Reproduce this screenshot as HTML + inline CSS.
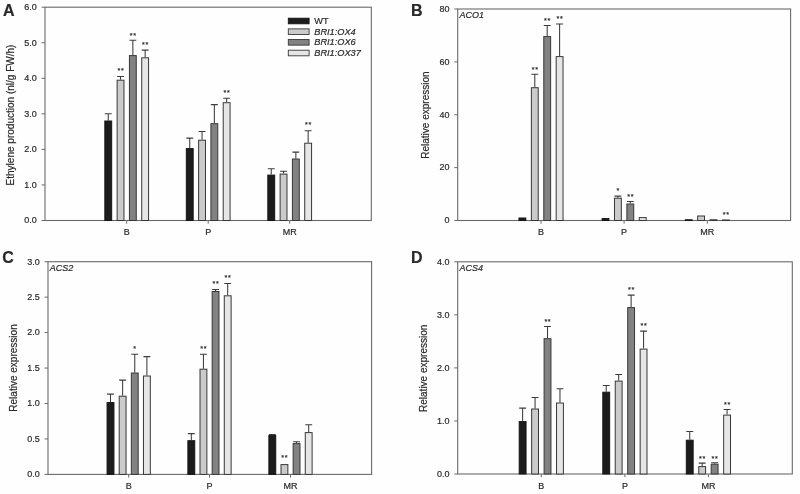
<!DOCTYPE html>
<html lang="en"><head><meta charset="utf-8"><title>Figure</title>
<style>html,body{margin:0;padding:0;background:#fefefe;}body{width:800px;height:494px;overflow:hidden;}svg{display:block;filter:blur(0.3px);}text{font-family:"Liberation Sans", Arial, Helvetica, sans-serif;fill:#2a2a2a;stroke:#2a2a2a;stroke-width:0.2px;}</style></head><body>
<svg width="800" height="494" viewBox="0 0 800 494">
<rect x="0" y="0" width="800" height="494" fill="#fefefe"/>
<g>
<rect x="45.00" y="7.20" width="326.30" height="213.30" fill="none" stroke="#6a6a6a" stroke-width="1.1"/>
<path d="M108.25 120.50V113.80M104.80 113.80H111.70" stroke="#3c3c3c" stroke-width="1.05" fill="none"/>
<rect x="104.83" y="121.00" width="6.85" height="99.50" fill="#1c1c1c" stroke="#141414" stroke-width="1.00"/>
<path d="M120.55 79.70V76.50M117.10 76.50H124.00" stroke="#3c3c3c" stroke-width="1.05" fill="none"/>
<rect x="117.12" y="80.20" width="6.85" height="140.30" fill="#cbcbcb" stroke="#383838" stroke-width="1.00"/>
<path d="M132.85 55.10V40.30M129.40 40.30H136.30" stroke="#3c3c3c" stroke-width="1.05" fill="none"/>
<rect x="129.42" y="55.60" width="6.85" height="164.90" fill="#828282" stroke="#383838" stroke-width="1.00"/>
<path d="M145.15 57.30V50.10M141.70 50.10H148.60" stroke="#3c3c3c" stroke-width="1.05" fill="none"/>
<rect x="141.72" y="57.80" width="6.85" height="162.70" fill="#e6e6e6" stroke="#383838" stroke-width="1.00"/>
<path d="M189.75 148.10V138.10M186.30 138.10H193.20" stroke="#3c3c3c" stroke-width="1.05" fill="none"/>
<rect x="186.32" y="148.60" width="6.85" height="71.90" fill="#1c1c1c" stroke="#141414" stroke-width="1.00"/>
<path d="M202.05 139.70V131.40M198.60 131.40H205.50" stroke="#3c3c3c" stroke-width="1.05" fill="none"/>
<rect x="198.62" y="140.20" width="6.85" height="80.30" fill="#cbcbcb" stroke="#383838" stroke-width="1.00"/>
<path d="M214.35 123.20V104.60M210.90 104.60H217.80" stroke="#3c3c3c" stroke-width="1.05" fill="none"/>
<rect x="210.92" y="123.70" width="6.85" height="96.80" fill="#828282" stroke="#383838" stroke-width="1.00"/>
<path d="M226.65 102.20V98.20M223.20 98.20H230.10" stroke="#3c3c3c" stroke-width="1.05" fill="none"/>
<rect x="223.22" y="102.70" width="6.85" height="117.80" fill="#e6e6e6" stroke="#383838" stroke-width="1.00"/>
<path d="M271.25 174.60V168.80M267.80 168.80H274.70" stroke="#3c3c3c" stroke-width="1.05" fill="none"/>
<rect x="267.82" y="175.10" width="6.85" height="45.40" fill="#1c1c1c" stroke="#141414" stroke-width="1.00"/>
<path d="M283.55 173.60V171.20M280.10 171.20H287.00" stroke="#3c3c3c" stroke-width="1.05" fill="none"/>
<rect x="280.12" y="174.10" width="6.85" height="46.40" fill="#cbcbcb" stroke="#383838" stroke-width="1.00"/>
<path d="M295.85 158.50V152.10M292.40 152.10H299.30" stroke="#3c3c3c" stroke-width="1.05" fill="none"/>
<rect x="292.42" y="159.00" width="6.85" height="61.50" fill="#828282" stroke="#383838" stroke-width="1.00"/>
<path d="M308.15 142.70V130.70M304.70 130.70H311.60" stroke="#3c3c3c" stroke-width="1.05" fill="none"/>
<rect x="304.72" y="143.20" width="6.85" height="77.30" fill="#e6e6e6" stroke="#383838" stroke-width="1.00"/>
<line x1="41.60" y1="7.20" x2="45.00" y2="7.20" stroke="#6a6a6a" stroke-width="1"/>
<text x="36.70" y="10.05" font-size="9" text-anchor="end">6.0</text>
<line x1="41.60" y1="42.75" x2="45.00" y2="42.75" stroke="#6a6a6a" stroke-width="1"/>
<text x="36.70" y="45.60" font-size="9" text-anchor="end">5.0</text>
<line x1="41.60" y1="78.30" x2="45.00" y2="78.30" stroke="#6a6a6a" stroke-width="1"/>
<text x="36.70" y="81.15" font-size="9" text-anchor="end">4.0</text>
<line x1="41.60" y1="113.85" x2="45.00" y2="113.85" stroke="#6a6a6a" stroke-width="1"/>
<text x="36.70" y="116.70" font-size="9" text-anchor="end">3.0</text>
<line x1="41.60" y1="149.40" x2="45.00" y2="149.40" stroke="#6a6a6a" stroke-width="1"/>
<text x="36.70" y="152.25" font-size="9" text-anchor="end">2.0</text>
<line x1="41.60" y1="184.95" x2="45.00" y2="184.95" stroke="#6a6a6a" stroke-width="1"/>
<text x="36.70" y="187.80" font-size="9" text-anchor="end">1.0</text>
<line x1="41.60" y1="220.50" x2="45.00" y2="220.50" stroke="#6a6a6a" stroke-width="1"/>
<text x="36.70" y="223.35" font-size="9" text-anchor="end">0.0</text>
<line x1="126.70" y1="220.50" x2="126.70" y2="223.70" stroke="#6a6a6a" stroke-width="1"/>
<text x="126.70" y="235.40" font-size="9" text-anchor="middle">B</text>
<line x1="208.20" y1="220.50" x2="208.20" y2="223.70" stroke="#6a6a6a" stroke-width="1"/>
<text x="208.20" y="235.40" font-size="9" text-anchor="middle">P</text>
<line x1="289.70" y1="220.50" x2="289.70" y2="223.70" stroke="#6a6a6a" stroke-width="1"/>
<text x="289.70" y="235.40" font-size="9" text-anchor="middle">MR</text>
<text x="120.90" y="72.95" font-size="7.2" letter-spacing="0.7" text-anchor="middle" fill="#222" stroke="#222" stroke-width="0.5">**</text>
<text x="133.20" y="37.65" font-size="7.2" letter-spacing="0.7" text-anchor="middle" fill="#222" stroke="#222" stroke-width="0.5">**</text>
<text x="145.50" y="47.05" font-size="7.2" letter-spacing="0.7" text-anchor="middle" fill="#222" stroke="#222" stroke-width="0.5">**</text>
<text x="227.00" y="95.05" font-size="7.2" letter-spacing="0.7" text-anchor="middle" fill="#222" stroke="#222" stroke-width="0.5">**</text>
<text x="308.50" y="127.25" font-size="7.2" letter-spacing="0.7" text-anchor="middle" fill="#222" stroke="#222" stroke-width="0.5">**</text>
<text x="3.00" y="15.90" font-size="16" font-weight="bold" fill="#000" stroke="none">A</text>
<text transform="translate(13.90 115.00) rotate(-90)" font-size="10.03" text-anchor="middle">Ethylene production (nl/g FW/h)</text>
</g>
<g>
<rect x="457.70" y="9.00" width="332.90" height="211.50" fill="none" stroke="#6a6a6a" stroke-width="1.1"/>
<rect x="518.98" y="218.00" width="6.85" height="2.50" fill="#1c1c1c" stroke="#141414" stroke-width="1.00"/>
<path d="M534.80 87.20V74.20M531.35 74.20H538.25" stroke="#3c3c3c" stroke-width="1.05" fill="none"/>
<rect x="531.38" y="87.70" width="6.85" height="132.80" fill="#cbcbcb" stroke="#383838" stroke-width="1.00"/>
<path d="M547.20 36.10V25.40M543.75 25.40H550.65" stroke="#3c3c3c" stroke-width="1.05" fill="none"/>
<rect x="543.78" y="36.60" width="6.85" height="183.90" fill="#828282" stroke="#383838" stroke-width="1.00"/>
<path d="M559.60 56.10V24.00M556.15 24.00H563.05" stroke="#3c3c3c" stroke-width="1.05" fill="none"/>
<rect x="556.18" y="56.60" width="6.85" height="163.90" fill="#e6e6e6" stroke="#383838" stroke-width="1.00"/>
<rect x="602.08" y="218.60" width="6.85" height="1.90" fill="#1c1c1c" stroke="#141414" stroke-width="1.00"/>
<path d="M617.90 197.70V196.10M614.45 196.10H621.35" stroke="#3c3c3c" stroke-width="1.05" fill="none"/>
<rect x="614.48" y="198.20" width="6.85" height="22.30" fill="#cbcbcb" stroke="#383838" stroke-width="1.00"/>
<path d="M630.30 203.50V201.50M626.85 201.50H633.75" stroke="#3c3c3c" stroke-width="1.05" fill="none"/>
<rect x="626.88" y="204.00" width="6.85" height="16.50" fill="#828282" stroke="#383838" stroke-width="1.00"/>
<rect x="639.28" y="217.60" width="6.85" height="2.90" fill="#e6e6e6" stroke="#383838" stroke-width="1.00"/>
<rect x="685.27" y="219.80" width="6.85" height="0.70" fill="#1c1c1c" stroke="#141414" stroke-width="1.00"/>
<rect x="697.67" y="216.00" width="6.85" height="4.50" fill="#cbcbcb" stroke="#383838" stroke-width="1.00"/>
<rect x="710.08" y="219.80" width="6.85" height="0.70" fill="#828282" stroke="#383838" stroke-width="1.00"/>
<rect x="722.48" y="220.00" width="6.85" height="0.50" fill="#e6e6e6" stroke="#383838" stroke-width="1.00"/>
<line x1="454.30" y1="9.00" x2="457.70" y2="9.00" stroke="#6a6a6a" stroke-width="1"/>
<text x="449.40" y="11.85" font-size="9" text-anchor="end">80</text>
<line x1="454.30" y1="61.88" x2="457.70" y2="61.88" stroke="#6a6a6a" stroke-width="1"/>
<text x="449.40" y="64.72" font-size="9" text-anchor="end">60</text>
<line x1="454.30" y1="114.75" x2="457.70" y2="114.75" stroke="#6a6a6a" stroke-width="1"/>
<text x="449.40" y="117.60" font-size="9" text-anchor="end">40</text>
<line x1="454.30" y1="167.62" x2="457.70" y2="167.62" stroke="#6a6a6a" stroke-width="1"/>
<text x="449.40" y="170.47" font-size="9" text-anchor="end">20</text>
<line x1="454.30" y1="220.50" x2="457.70" y2="220.50" stroke="#6a6a6a" stroke-width="1"/>
<text x="449.40" y="223.35" font-size="9" text-anchor="end">0</text>
<line x1="541.00" y1="220.50" x2="541.00" y2="223.70" stroke="#6a6a6a" stroke-width="1"/>
<text x="541.00" y="235.40" font-size="9" text-anchor="middle">B</text>
<line x1="624.10" y1="220.50" x2="624.10" y2="223.70" stroke="#6a6a6a" stroke-width="1"/>
<text x="624.10" y="235.40" font-size="9" text-anchor="middle">P</text>
<line x1="707.30" y1="220.50" x2="707.30" y2="223.70" stroke="#6a6a6a" stroke-width="1"/>
<text x="707.30" y="235.40" font-size="9" text-anchor="middle">MR</text>
<text x="535.15" y="71.55" font-size="7.2" letter-spacing="0.7" text-anchor="middle" fill="#222" stroke="#222" stroke-width="0.5">**</text>
<text x="547.55" y="22.85" font-size="7.2" letter-spacing="0.7" text-anchor="middle" fill="#222" stroke="#222" stroke-width="0.5">**</text>
<text x="559.95" y="20.95" font-size="7.2" letter-spacing="0.7" text-anchor="middle" fill="#222" stroke="#222" stroke-width="0.5">**</text>
<text x="618.25" y="193.25" font-size="7.2" letter-spacing="0.7" text-anchor="middle" fill="#222" stroke="#222" stroke-width="0.5">*</text>
<text x="630.65" y="198.55" font-size="7.2" letter-spacing="0.7" text-anchor="middle" fill="#222" stroke="#222" stroke-width="0.5">**</text>
<text x="726.25" y="216.55" font-size="7.2" letter-spacing="0.7" text-anchor="middle" fill="#222" stroke="#222" stroke-width="0.5">**</text>
<text x="410.90" y="15.90" font-size="16" font-weight="bold" fill="#000" stroke="none">B</text>
<text x="459.40" y="18.30" font-size="9" font-style="italic">ACO1</text>
<text transform="translate(428.60 115.10) rotate(-90)" font-size="10.03" text-anchor="middle">Relative expression</text>
</g>
<g>
<rect x="48.00" y="261.70" width="323.60" height="212.70" fill="none" stroke="#6a6a6a" stroke-width="1.1"/>
<path d="M110.50 402.10V394.10M107.05 394.10H113.95" stroke="#3c3c3c" stroke-width="1.05" fill="none"/>
<rect x="107.08" y="402.60" width="6.85" height="71.80" fill="#1c1c1c" stroke="#141414" stroke-width="1.00"/>
<path d="M122.63 395.70V380.10M119.18 380.10H126.08" stroke="#3c3c3c" stroke-width="1.05" fill="none"/>
<rect x="119.21" y="396.20" width="6.85" height="78.20" fill="#cbcbcb" stroke="#383838" stroke-width="1.00"/>
<path d="M134.76 372.50V354.30M131.31 354.30H138.21" stroke="#3c3c3c" stroke-width="1.05" fill="none"/>
<rect x="131.34" y="373.00" width="6.85" height="101.40" fill="#828282" stroke="#383838" stroke-width="1.00"/>
<path d="M146.89 375.50V356.60M143.44 356.60H150.34" stroke="#3c3c3c" stroke-width="1.05" fill="none"/>
<rect x="143.47" y="376.00" width="6.85" height="98.40" fill="#e6e6e6" stroke="#383838" stroke-width="1.00"/>
<path d="M191.31 440.20V433.60M187.86 433.60H194.75" stroke="#3c3c3c" stroke-width="1.05" fill="none"/>
<rect x="187.88" y="440.70" width="6.85" height="33.70" fill="#1c1c1c" stroke="#141414" stroke-width="1.00"/>
<path d="M203.44 368.70V354.30M199.99 354.30H206.88" stroke="#3c3c3c" stroke-width="1.05" fill="none"/>
<rect x="200.01" y="369.20" width="6.85" height="105.20" fill="#cbcbcb" stroke="#383838" stroke-width="1.00"/>
<path d="M215.56 291.00V289.40M212.12 289.40H219.01" stroke="#3c3c3c" stroke-width="1.05" fill="none"/>
<rect x="212.14" y="291.50" width="6.85" height="182.90" fill="#828282" stroke="#383838" stroke-width="1.00"/>
<path d="M227.69 295.30V283.50M224.25 283.50H231.14" stroke="#3c3c3c" stroke-width="1.05" fill="none"/>
<rect x="224.27" y="295.80" width="6.85" height="178.60" fill="#e6e6e6" stroke="#383838" stroke-width="1.00"/>
<path d="M272.31 435.10V434.50M268.86 434.50H275.75" stroke="#3c3c3c" stroke-width="1.05" fill="none"/>
<rect x="268.88" y="435.60" width="6.85" height="38.80" fill="#1c1c1c" stroke="#141414" stroke-width="1.00"/>
<rect x="281.01" y="464.60" width="6.85" height="9.80" fill="#cbcbcb" stroke="#383838" stroke-width="1.00"/>
<path d="M296.56 443.10V441.70M293.12 441.70H300.01" stroke="#3c3c3c" stroke-width="1.05" fill="none"/>
<rect x="293.14" y="443.60" width="6.85" height="30.80" fill="#828282" stroke="#383838" stroke-width="1.00"/>
<path d="M308.69 432.10V424.70M305.25 424.70H312.14" stroke="#3c3c3c" stroke-width="1.05" fill="none"/>
<rect x="305.27" y="432.60" width="6.85" height="41.80" fill="#e6e6e6" stroke="#383838" stroke-width="1.00"/>
<line x1="44.60" y1="261.70" x2="48.00" y2="261.70" stroke="#6a6a6a" stroke-width="1"/>
<text x="39.70" y="264.55" font-size="9" text-anchor="end">3.0</text>
<line x1="44.60" y1="297.15" x2="48.00" y2="297.15" stroke="#6a6a6a" stroke-width="1"/>
<text x="39.70" y="300.00" font-size="9" text-anchor="end">2.5</text>
<line x1="44.60" y1="332.60" x2="48.00" y2="332.60" stroke="#6a6a6a" stroke-width="1"/>
<text x="39.70" y="335.45" font-size="9" text-anchor="end">2.0</text>
<line x1="44.60" y1="368.05" x2="48.00" y2="368.05" stroke="#6a6a6a" stroke-width="1"/>
<text x="39.70" y="370.90" font-size="9" text-anchor="end">1.5</text>
<line x1="44.60" y1="403.50" x2="48.00" y2="403.50" stroke="#6a6a6a" stroke-width="1"/>
<text x="39.70" y="406.35" font-size="9" text-anchor="end">1.0</text>
<line x1="44.60" y1="438.95" x2="48.00" y2="438.95" stroke="#6a6a6a" stroke-width="1"/>
<text x="39.70" y="441.80" font-size="9" text-anchor="end">0.5</text>
<line x1="44.60" y1="474.40" x2="48.00" y2="474.40" stroke="#6a6a6a" stroke-width="1"/>
<text x="39.70" y="477.25" font-size="9" text-anchor="end">0.0</text>
<line x1="128.70" y1="474.40" x2="128.70" y2="477.60" stroke="#6a6a6a" stroke-width="1"/>
<text x="128.70" y="489.30" font-size="9" text-anchor="middle">B</text>
<line x1="209.50" y1="474.40" x2="209.50" y2="477.60" stroke="#6a6a6a" stroke-width="1"/>
<text x="209.50" y="489.30" font-size="9" text-anchor="middle">P</text>
<line x1="290.50" y1="474.40" x2="290.50" y2="477.60" stroke="#6a6a6a" stroke-width="1"/>
<text x="290.50" y="489.30" font-size="9" text-anchor="middle">MR</text>
<text x="135.11" y="351.35" font-size="7.2" letter-spacing="0.7" text-anchor="middle" fill="#222" stroke="#222" stroke-width="0.5">*</text>
<text x="203.78" y="351.35" font-size="7.2" letter-spacing="0.7" text-anchor="middle" fill="#222" stroke="#222" stroke-width="0.5">**</text>
<text x="215.91" y="285.65" font-size="7.2" letter-spacing="0.7" text-anchor="middle" fill="#222" stroke="#222" stroke-width="0.5">**</text>
<text x="228.04" y="280.45" font-size="7.2" letter-spacing="0.7" text-anchor="middle" fill="#222" stroke="#222" stroke-width="0.5">**</text>
<text x="284.79" y="460.15" font-size="7.2" letter-spacing="0.7" text-anchor="middle" fill="#222" stroke="#222" stroke-width="0.5">**</text>
<text x="2.30" y="262.80" font-size="16" font-weight="bold" fill="#000" stroke="none">C</text>
<text x="49.70" y="271.00" font-size="9" font-style="italic">ACS2</text>
<text transform="translate(16.60 368.00) rotate(-90)" font-size="10.03" text-anchor="middle">Relative expression</text>
</g>
<g>
<rect x="457.70" y="261.80" width="334.60" height="212.20" fill="none" stroke="#6a6a6a" stroke-width="1.1"/>
<path d="M522.62 421.10V408.10M519.17 408.10H526.08" stroke="#3c3c3c" stroke-width="1.05" fill="none"/>
<rect x="519.20" y="421.60" width="6.85" height="52.40" fill="#1c1c1c" stroke="#141414" stroke-width="1.00"/>
<path d="M535.07 408.50V397.50M531.62 397.50H538.52" stroke="#3c3c3c" stroke-width="1.05" fill="none"/>
<rect x="531.65" y="409.00" width="6.85" height="65.00" fill="#cbcbcb" stroke="#383838" stroke-width="1.00"/>
<path d="M547.52 338.20V326.50M544.07 326.50H550.98" stroke="#3c3c3c" stroke-width="1.05" fill="none"/>
<rect x="544.10" y="338.70" width="6.85" height="135.30" fill="#828282" stroke="#383838" stroke-width="1.00"/>
<path d="M559.97 402.50V388.70M556.52 388.70H563.42" stroke="#3c3c3c" stroke-width="1.05" fill="none"/>
<rect x="556.55" y="403.00" width="6.85" height="71.00" fill="#e6e6e6" stroke="#383838" stroke-width="1.00"/>
<path d="M606.23 391.70V385.50M602.77 385.50H609.68" stroke="#3c3c3c" stroke-width="1.05" fill="none"/>
<rect x="602.80" y="392.20" width="6.85" height="81.80" fill="#1c1c1c" stroke="#141414" stroke-width="1.00"/>
<path d="M618.67 380.60V374.40M615.22 374.40H622.12" stroke="#3c3c3c" stroke-width="1.05" fill="none"/>
<rect x="615.25" y="381.10" width="6.85" height="92.90" fill="#cbcbcb" stroke="#383838" stroke-width="1.00"/>
<path d="M631.12 307.10V295.10M627.67 295.10H634.58" stroke="#3c3c3c" stroke-width="1.05" fill="none"/>
<rect x="627.70" y="307.60" width="6.85" height="166.40" fill="#828282" stroke="#383838" stroke-width="1.00"/>
<path d="M643.57 348.60V331.10M640.12 331.10H647.02" stroke="#3c3c3c" stroke-width="1.05" fill="none"/>
<rect x="640.15" y="349.10" width="6.85" height="124.90" fill="#e6e6e6" stroke="#383838" stroke-width="1.00"/>
<path d="M689.73 439.70V431.50M686.27 431.50H693.18" stroke="#3c3c3c" stroke-width="1.05" fill="none"/>
<rect x="686.30" y="440.20" width="6.85" height="33.80" fill="#1c1c1c" stroke="#141414" stroke-width="1.00"/>
<path d="M702.17 466.10V463.10M698.72 463.10H705.62" stroke="#3c3c3c" stroke-width="1.05" fill="none"/>
<rect x="698.75" y="466.60" width="6.85" height="7.40" fill="#cbcbcb" stroke="#383838" stroke-width="1.00"/>
<path d="M714.62 463.70V462.70M711.17 462.70H718.08" stroke="#3c3c3c" stroke-width="1.05" fill="none"/>
<rect x="711.20" y="464.20" width="6.85" height="9.80" fill="#828282" stroke="#383838" stroke-width="1.00"/>
<path d="M727.07 414.60V409.40M723.62 409.40H730.52" stroke="#3c3c3c" stroke-width="1.05" fill="none"/>
<rect x="723.65" y="415.10" width="6.85" height="58.90" fill="#e6e6e6" stroke="#383838" stroke-width="1.00"/>
<line x1="454.30" y1="261.80" x2="457.70" y2="261.80" stroke="#6a6a6a" stroke-width="1"/>
<text x="449.40" y="264.65" font-size="9" text-anchor="end">4.0</text>
<line x1="454.30" y1="314.85" x2="457.70" y2="314.85" stroke="#6a6a6a" stroke-width="1"/>
<text x="449.40" y="317.70" font-size="9" text-anchor="end">3.0</text>
<line x1="454.30" y1="367.90" x2="457.70" y2="367.90" stroke="#6a6a6a" stroke-width="1"/>
<text x="449.40" y="370.75" font-size="9" text-anchor="end">2.0</text>
<line x1="454.30" y1="420.95" x2="457.70" y2="420.95" stroke="#6a6a6a" stroke-width="1"/>
<text x="449.40" y="423.80" font-size="9" text-anchor="end">1.0</text>
<line x1="454.30" y1="474.00" x2="457.70" y2="474.00" stroke="#6a6a6a" stroke-width="1"/>
<text x="449.40" y="476.85" font-size="9" text-anchor="end">0.0</text>
<line x1="541.30" y1="474.00" x2="541.30" y2="477.20" stroke="#6a6a6a" stroke-width="1"/>
<text x="541.30" y="488.90" font-size="9" text-anchor="middle">B</text>
<line x1="624.90" y1="474.00" x2="624.90" y2="477.20" stroke="#6a6a6a" stroke-width="1"/>
<text x="624.90" y="488.90" font-size="9" text-anchor="middle">P</text>
<line x1="708.40" y1="474.00" x2="708.40" y2="477.20" stroke="#6a6a6a" stroke-width="1"/>
<text x="708.40" y="488.90" font-size="9" text-anchor="middle">MR</text>
<text x="547.88" y="323.55" font-size="7.2" letter-spacing="0.7" text-anchor="middle" fill="#222" stroke="#222" stroke-width="0.5">**</text>
<text x="631.48" y="292.45" font-size="7.2" letter-spacing="0.7" text-anchor="middle" fill="#222" stroke="#222" stroke-width="0.5">**</text>
<text x="643.92" y="327.95" font-size="7.2" letter-spacing="0.7" text-anchor="middle" fill="#222" stroke="#222" stroke-width="0.5">**</text>
<text x="702.52" y="460.75" font-size="7.2" letter-spacing="0.7" text-anchor="middle" fill="#222" stroke="#222" stroke-width="0.5">**</text>
<text x="714.98" y="460.75" font-size="7.2" letter-spacing="0.7" text-anchor="middle" fill="#222" stroke="#222" stroke-width="0.5">**</text>
<text x="727.42" y="407.45" font-size="7.2" letter-spacing="0.7" text-anchor="middle" fill="#222" stroke="#222" stroke-width="0.5">**</text>
<text x="410.90" y="262.80" font-size="16" font-weight="bold" fill="#000" stroke="none">D</text>
<text x="459.40" y="271.10" font-size="9" font-style="italic">ACS4</text>
<text transform="translate(426.50 368.30) rotate(-90)" font-size="10.03" text-anchor="middle">Relative expression</text>
</g>
<g>
<rect x="288.3" y="18.20" width="20.8" height="5.6" fill="#1c1c1c" stroke="#141414" stroke-width="0.9"/>
<text x="314.3" y="24.10" font-size="9.2">WT</text>
<rect x="288.3" y="28.87" width="20.8" height="5.6" fill="#cbcbcb" stroke="#383838" stroke-width="0.9"/>
<text x="314.3" y="34.77" font-size="9.2" font-style="italic">BRI1:OX4</text>
<rect x="288.3" y="39.54" width="20.8" height="5.6" fill="#828282" stroke="#383838" stroke-width="0.9"/>
<text x="314.3" y="45.44" font-size="9.2" font-style="italic">BRI1:OX6</text>
<rect x="288.3" y="50.21" width="20.8" height="5.6" fill="#e6e6e6" stroke="#383838" stroke-width="0.9"/>
<text x="314.3" y="56.11" font-size="9.2" font-style="italic">BRI1:OX37</text>
</g>
</svg></body></html>
